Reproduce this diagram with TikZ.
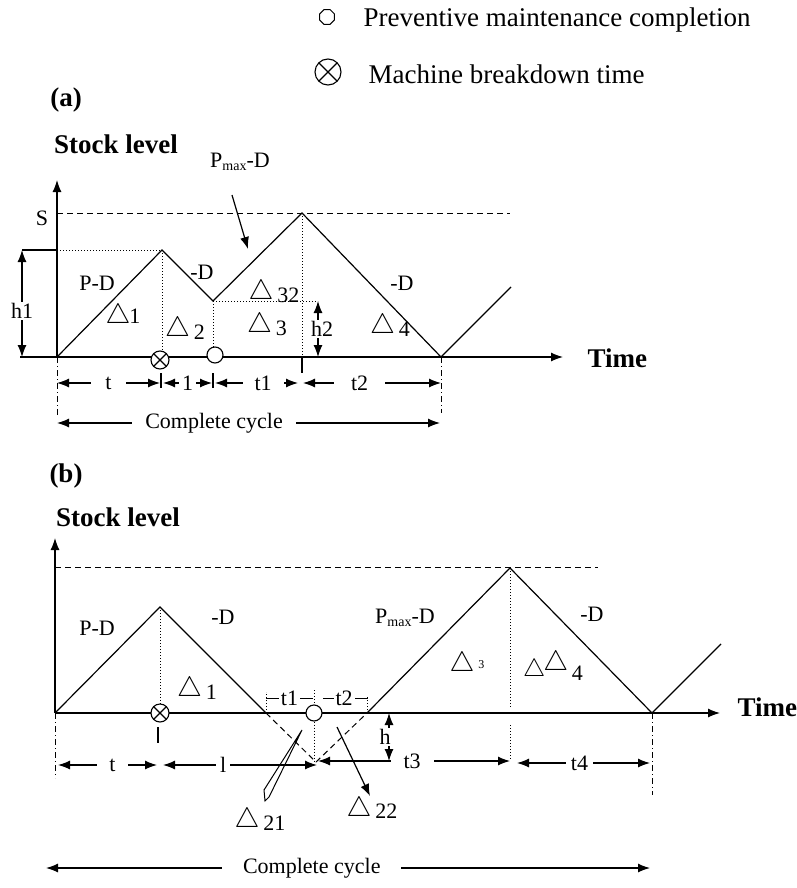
\RequirePackage{fix-cm}
\documentclass[tikz,border=0pt]{standalone}
\usepackage{fontspec}
\setmainfont{Liberation Serif}
\usetikzlibrary{arrows.meta,shapes.geometric}

\newcommand{\tri}{{\fontsize{28}{28}\selectfont$\bigtriangleup$}}
\newcommand{\pmaxd}{P\raisebox{-3pt}{\fontsize{14}{14}\selectfont max}-D}

\tikzset{
  lbl/.style={font=\fontsize{22}{24}\selectfont, inner sep=1pt},
  hd/.style={font=\fontsize{27}{30}\selectfont\bfseries, inner sep=0pt},
  legtext/.style={font=\fontsize{27}{29}\selectfont, inner sep=0pt, anchor=west},
  gap/.style={lbl, fill=white, inner xsep=12pt},
  dots/.style={line width=0.9pt, dash pattern=on 1pt off 2pt},
  dashes/.style={line width=1pt, dash pattern=on 6pt off 4pt},
  dashdot/.style={line width=1pt, dash pattern=on 6pt off 3pt on 1pt off 3pt},
  pmc/.style={circle, draw, fill=white, inner sep=0pt, line width=1.1pt, minimum size=16pt},
  brk/.style={circle, draw, fill=white, inner sep=0pt, line width=1.1pt, minimum size=18pt,
    path picture={\draw[line width=1.1pt] (path picture bounding box.north west) -- (path picture bounding box.south east)
      (path picture bounding box.north east) -- (path picture bounding box.south west);}}
}

\begin{document}
\begin{tikzpicture}[x=1pt,y=-1pt,>={Latex[length=12pt,width=9pt]},line width=1.2pt]
  \useasboundingbox (0,0) rectangle (796,888);

  % legend
  \node[regular polygon, regular polygon sides=8, draw, line width=1pt, minimum size=16pt, inner sep=0pt] (lg1) at (327,17) {};
  \node[legtext] (lt1) at (363,20) {Preventive maintenance completion};
  \node[brk, minimum size=26pt] (lg2) at (328,72) {};
  \node[legtext] (lt2) at (368,74) {Machine breakdown time};

  % ---------- (a) ----------
  \node[hd] (la) at (66,100) {(a)};
  \node[hd] (sla) at (116,144) {Stock level};
  \coordinate (oa) at (57,357);
  \coordinate (ya) at (57,180);
  \coordinate (xa0) at (20,357);
  \coordinate (xa) at (563,357);
  \draw[->] (oa) -- (ya);
  \draw[->] (xa0) -- (xa);
  \node[hd,anchor=west] (tma) at (587,358) {Time};
  % stock curve
  \coordinate (a1) at (162,250);
  \coordinate (a2) at (213,301);
  \coordinate (a3) at (302,213);
  \coordinate (a4) at (441,357);
  \coordinate (a5) at (511,287);
  \draw (oa) -- (a1) -- (a2) -- (a3) -- (a4) -- (a5);
  % S level
  \coordinate (sa0) at (57,213);
  \coordinate (sa1) at (510,213);
  \draw[dashes] (sa0) -- (sa1);
  \node[lbl] (sl) at (42,218) {S};
  % h1
  \coordinate (h1t) at (22,250);
  \coordinate (h1b) at (22,357);
  \coordinate (h1r) at (57,250);
  \draw (h1t) -- (h1r);
  \draw[dots] (h1r) -- (a1);
  \draw[<->] (h1t) -- node[gap,inner xsep=1pt,pos=0.57] (h1) {h1} (h1b);
  % events
  \node[brk] (bxa) at (160,360) {};
  \node[pmc] (pma) at (215,355) {};
  \draw[dots] (a1) -- (a1 |- bxa.north);
  \draw[dots] (a2) -- (a2 |- pma.north);
  \draw[dots] (a3) -- (a3 |- oa);
  \coordinate (k3) at (302,373);
  \draw (a3 |- oa) -- (k3);
  % h2
  \coordinate (h2t) at (318,301);
  \draw[dots] (a2) -- (h2t);
  \draw[<->] (h2t) -- node[gap,inner xsep=1pt,xshift=4pt] (h2) {h2} (h2t |- oa);
  % labels
  \node[lbl] (pmxa) at (240,162) {\pmaxd};
  \coordinate (pa0) at (232,195);
  \coordinate (pa1) at (248,249);
  \draw[->] (pa0) -- (pa1);
  \node[lbl] (pda) at (97,283) {P-D};
  \node[lbl] (nda) at (202,272) {-D};
  \node[lbl] (ndb) at (402,283) {-D};
  \node[lbl] (da1) at (123,316) {\tri\kern-1pt1};
  \node[lbl] (da2) at (185,329) {\tri\,\raisebox{-3pt}{2}};
  \node[lbl] (da32) at (274,292) {\tri\,\raisebox{-3pt}{32}};
  \node[lbl] (da3) at (267,325) {\tri\,\raisebox{-3pt}{3}};
  \node[lbl] (da4) at (390,326) {\tri\,\raisebox{-3pt}{4}};
  % time spans
  \coordinate (d0) at (57,383);
  \coordinate (d1) at (160,383);
  \coordinate (d1b) at (163,383);
  \coordinate (d2) at (212,383);
  \coordinate (d2b) at (215,383);
  \coordinate (d3) at (298,383);
  \coordinate (d3b) at (303,383);
  \coordinate (d4) at (441,383);
  \draw (161,373) -- (161,388);
  \draw (213,373) -- (213,388);
  \draw[<->] (d0) -- node[gap,inner xsep=14pt] (sp1) {t} (d1);
  \draw[<->] (d1b) -- node[gap,inner xsep=3pt] (sp2) {1} (d2);
  \draw[<->] (d2b) -- node[gap,pos=0.58] (sp3) {t1} (d3);
  \draw[<->] (d3b) -- node[gap,inner xsep=17pt,pos=0.41] (sp4) {t2} (d4);
  \draw[dashdot] (oa) -- (57,415);
  \draw[dashdot] (a4) -- (441,413);
  \coordinate (ca0) at (57,423);
  \coordinate (ca1) at (440,423);
  \draw[<->] (ca0) -- node[gap,inner xsep=13pt,pos=0.41] (cca) {Complete cycle} (ca1);

  % ---------- (b) ----------
  \node[hd] (lb) at (66,476) {(b)};
  \node[hd] (slb) at (118,517) {Stock level};
  \coordinate (ob) at (55,713);
  \coordinate (yb) at (55,538);
  \coordinate (xb) at (720,713);
  \draw[->] (ob) -- (yb);
  \draw[->] (ob) -- (xb);
  \node[hd,anchor=west] (tmb) at (737,707) {Time};
  % stock curve
  \coordinate (b1) at (160,607);
  \coordinate (b2) at (266,713);
  \coordinate (b3) at (316,762);
  \coordinate (b4) at (367,713);
  \coordinate (b5) at (510,568);
  \coordinate (b6) at (652,713);
  \coordinate (b7) at (721,644);
  \draw (ob) -- (b1) -- (b2);
  \draw[dashes] (b2) -- (b3) -- (b4);
  \draw (b4) -- (b5) -- (b6) -- (b7);
  \coordinate (sb0) at (55,567);
  \coordinate (sb1) at (598,567);
  \draw[dashes] (sb0) -- (sb1);
  % events
  \node[brk] (bxb) at (160,713) {};
  \node[pmc] (pmb) at (314,713) {};
  \draw[dots] (b1) -- (b1 |- bxb.north);
  \draw (158,727) -- (158,743);
  \draw[dots] (314,690) -- (pmb.north);
  \draw[dots] (pmb.south) -- (314,761);
  \draw[dots] (b2) -- (266,692);
  \draw[dots] (b4) -- (367,696);
  \draw[dots] (b5) -- (510,707);
  \draw[dots] (510,725) -- (510,760);
  % t1, t2 around repair
  \draw[line width=1pt] (266,698) -- node[gap,inner xsep=2pt] (st1) {t1} (313,698);
  \draw[line width=1pt] (323,698) -- node[gap,inner xsep=2pt,pos=0.47] (st2) {t2} (368,698);
  % labels
  \node[lbl] (pdb) at (97,628) {P-D};
  \node[lbl] (ndc) at (223,617) {-D};
  \node[lbl] (pmxb) at (405,618) {\pmaxd};
  \node[lbl] (ndd) at (592,614) {-D};
  \node[lbl] (db1) at (197,689) {\tri\,\raisebox{-3pt}{1}};
  \node[lbl] (db3) at (467,664) {\tri\,\raisebox{3pt}{\fontsize{12}{12}\selectfont 3}};
  \node[lbl] (db4) at (553,666) {{\fontsize{25}{25}\selectfont$\bigtriangleup$}\kern-2pt\raisebox{6pt}{\tri}\,\raisebox{-4pt}{4}};
  \node[lbl] (db21) at (260,820) {\tri\,\raisebox{-3pt}{21}};
  \node[lbl] (db22) at (372,809) {\tri\,\raisebox{-2pt}{22}};
  % pointers to the two small triangles
  \draw[line width=1pt] (302,730) -- (264,790) -- (265,801) -- (269,797) -- cycle;
  \coordinate (p22a) at (337,727);
  \coordinate (p22b) at (370,796);
  \draw[->] (p22a) -- (p22b);
  % time spans
  \coordinate (e0) at (58,765);
  \coordinate (e1) at (157,765);
  \coordinate (e1b) at (163,765);
  \coordinate (e2) at (317,765);
  \coordinate (e3) at (318,761);
  \coordinate (e4) at (510,761);
  \coordinate (e5) at (517,763);
  \coordinate (e6) at (650,763);
  \draw[<->] (e0) -- node[gap,pos=0.55] (su1) {t} (e1);
  \draw[<->] (e1b) -- node[gap,inner xsep=4pt,pos=0.39] (su2) {l} (e2);
  \draw[<->] (e3) -- node[gap,inner xsep=13pt,pos=0.49] (su3) {t3} (e4);
  \draw[<->] (e5) -- node[gap,inner xsep=5pt,pos=0.47] (su4) {t4} (e6);
  % h
  \coordinate (hb0) at (389,713);
  \coordinate (hb1) at (389,761);
  \draw[<->] (hb0) -- node[gap,inner xsep=1pt,xshift=-4pt] (hh) {h} (hb1);
  \draw[dashdot] (ob) -- (55,778);
  \draw[dashdot] (b6) -- (652,795);
  \coordinate (cb0) at (46,868);
  \coordinate (cb1) at (650,868);
  \draw[<->] (cb0) -- node[gap,inner xsep=21pt,pos=0.44] (ccb) {Complete cycle} (cb1);
\end{tikzpicture}
\end{document}
